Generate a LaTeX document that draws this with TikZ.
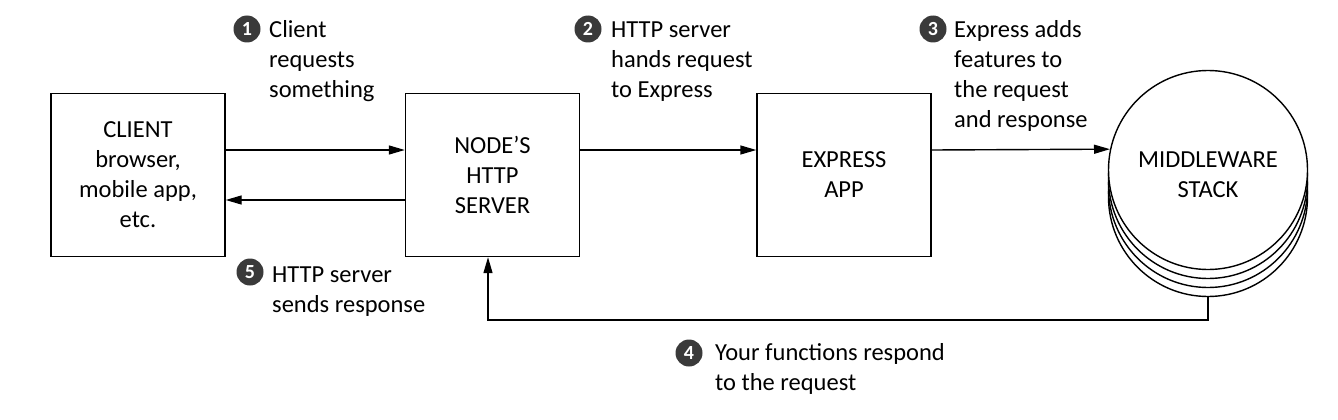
\documentclass[tikz,border=0pt]{standalone}
\usepackage{fontspec}
\setmainfont{Carlito}
\usetikzlibrary{arrows.meta,shapes.geometric}
\definecolor{marker}{HTML}{3A3A3A}
\tikzset{
  box/.style={draw, line width=1.4pt, minimum width=174pt, minimum height=163pt, inner sep=0pt, align=center, font=\fontsize{24.5}{30}\selectfont},
  disc/.style={circle, draw, line width=1.4pt, fill=white, minimum size=199pt, inner sep=0pt},
  arr/.style={line width=1.4pt, -{Triangle[length=16pt,width=9pt]}},
  lbl/.style={anchor=north west, inner sep=0pt, align=left, font=\fontsize{24.5}{30}\selectfont},
  num/.style={circle, fill=marker, text=white, minimum size=27pt, inner sep=0pt, font=\fontsize{20}{20}\selectfont\bfseries}
}
\begin{document}
\begin{tikzpicture}[x=1pt,y=-1pt]
\useasboundingbox (0,0) rectangle (1338,420);
% boxes
\node[box] (client) at (138,175) {CLIENT\\browser,\\mobile app,\\etc.};
\node[box] (server) at (492.5,175) {NODE’S\\HTTP\\SERVER};
\node[box] (express) at (844,175) {EXPRESS\\APP};
% middleware stack
\node[disc] (mw4) at (1208,197) {};
\node[disc] (mw3) at (1208,188) {};
\node[disc] (mw2) at (1208,179) {};
\node[disc] (mw) at (1208,170) {};
\node[align=center, font=\fontsize{24.5}{30}\selectfont] (mwtext) at (1208,175) {MIDDLEWARE\\STACK};
% connectors
\draw[arr] ([yshift=25pt]client.east) -- ([yshift=25pt]server.west);
\draw[arr] ([yshift=-25pt]server.west) -- ([yshift=-25pt]client.east);
\draw[arr] ([yshift=25pt]server.east) -- ([yshift=25pt]express.west);
\draw[arr] ([yshift=25pt]express.east) -- (mw.168.5);
\coordinate (ret) at (1208,320);
\draw[arr] (mw4.south) -- (ret) -| ([xshift=-4.5pt]server.south);
% labels
\node[num] (n1) at (247,29) {1};
\node[lbl] (l1) at (269,16) {\strut Client\\requests\\something};
\node[num] (n2) at (588,29) {2};
\node[lbl] (l2) at (611,16) {\strut HTTP server\\hands request\\to Express};
\node[num] (n3) at (933,29) {3};
\node[lbl] (l3) at (954,16) {\strut Express adds\\features to\\the request\\and response};
\node[num] (n4) at (689,353) {4};
\node[lbl] (l4) at (715,339) {\strut Your functions respond\\to the request};
\node[num] (n5) at (250,272) {5};
\node[lbl] (l5) at (272,261) {\strut HTTP server\\sends response};
\end{tikzpicture}
\end{document}
